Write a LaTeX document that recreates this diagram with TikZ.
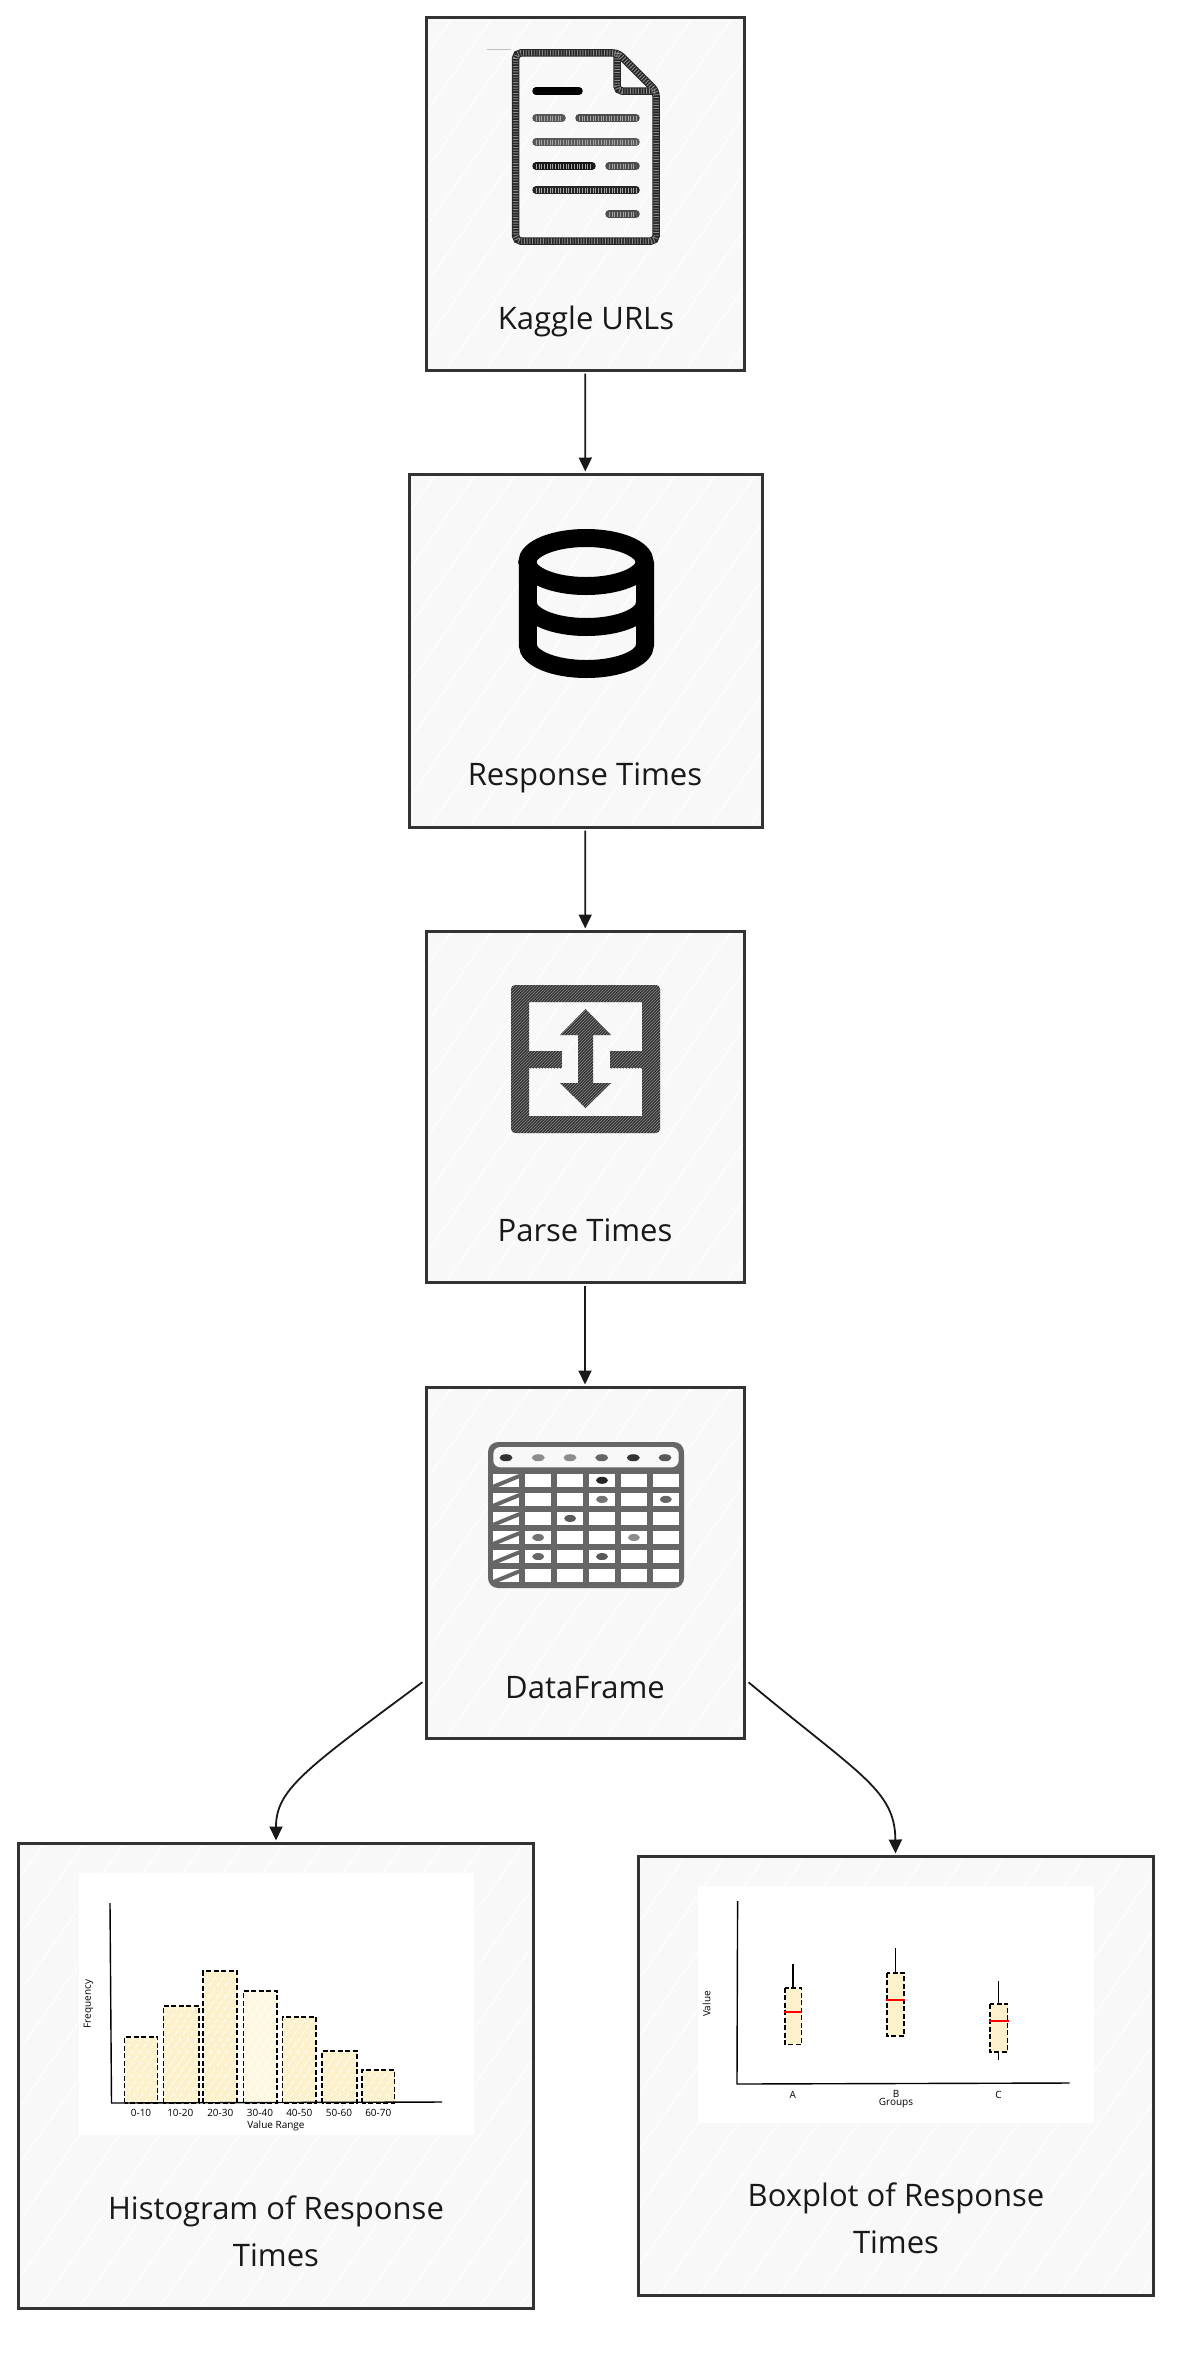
\documentclass[tikz,border=0pt]{standalone}
\usepackage{fontspec}
\setmainfont{Open Sans}
\usetikzlibrary{arrows.meta, calc, patterns, positioning}
\definecolor{boxgray}{HTML}{F8F8F8}
\definecolor{boxline}{HTML}{333333}
\definecolor{barcream}{HTML}{FDF1CB}
\definecolor{iconhatch}{HTML}{333333}
\definecolor{gridgray}{HTML}{666666}
\tikzset{
  skhatch/.style={path picture={
    \foreach \i in {-340,-300,...,520}
      \draw[white, line width=1pt]
        ($(path picture bounding box.south west)+(\i,0)$) -- +(490,-700);}},
  skbarhatch/.style={path picture={
    \foreach \i in {-140,-132,...,40}
      \draw[white, line width=.8pt]
        ($(path picture bounding box.south west)+(\i,0)$) -- +(105,-150);}},
  skbox/.style={rectangle, draw=boxline, fill=boxgray, line width=3pt, skhatch, inner sep=0pt},
  skarrow/.style={-{Triangle[length=14pt, width=13pt]}, line width=1.8pt, color=black!90, shorten >=1pt, shorten <=2pt},
  skcap/.style={font=\fontsize{31}{47}\selectfont, align=center, text=black!90, inner sep=0pt},
  sklabel/.style={font=\fontsize{10}{12}\selectfont, inner sep=0pt},
  skpanel/.style={fill=white, draw=none},
  skaxis/.style={line width=1.4pt, black},
  skbar/.style={draw=black, dash pattern=on 5pt off 2.5pt, line width=1.6pt, fill=barcream},
  skdoc/.style={line width=7.5pt, black!85, rounded corners=5pt},
  skdocover/.style={line width=5.5pt, white!55!black, rounded corners=5pt, dash pattern=on .9pt off 1.8pt},
  sktext/.style={line width=7.5pt, line cap=round},
  sktextover/.style={line width=5pt, white!65!black, dash pattern=on .9pt off 1.8pt},
  skdb/.style={line width=18pt, black},
  skparse/.style={fill=iconhatch, postaction={pattern=north east lines, pattern color=black!45}},
  skmedian/.style={line width=2.4pt, red},
}
\begin{document}
\begin{tikzpicture}[x=1pt, y=-1pt]
  \useasboundingbox (0,0) rectangle (1188,2358);

  % Pipeline boxes.
  \node[skbox, minimum width=318pt, minimum height=352pt] (urls) at (585,194) {};
  \node[skbox, minimum width=353pt, minimum height=353pt] (times) at (585.5,650.5) {};
  \node[skbox, minimum width=318pt, minimum height=351pt] (parse) at (585,1106.5) {};
  \node[skbox, minimum width=318pt, minimum height=351pt] (frame) at (585,1562.5) {};
  \node[skbox, minimum width=515pt, minimum height=465pt] (hist) at (276,2075.5) {};
  \node[skbox, minimum width=515pt, minimum height=439pt] (boxp) at (895.5,2075.5) {};

  % Captions.
  \node[skcap] (urlscap) at (586,321) {Kaggle URLs};
  \node[skcap] (timescap) at (585,778) {Response Times};
  \node[skcap] (parsecap) at (585,1230) {Parse Times};
  \node[skcap] (framecap) at (585,1688) {DataFrame};
  \node[skcap] (histcap) at (276,2231) {Histogram of Response\\Times};
  \node[skcap] (boxpcap) at (896,2218) {Boxplot of Response\\Times};

  % Edges.
  \coordinate (frameleft) at (424,1681);
  \coordinate (frameright) at (747,1681);
  \draw[skarrow] (urls) -- (times);
  \draw[skarrow] (times) -- (parse);
  \draw[skarrow] (parse) -- (frame);
  \draw[skarrow] (frameleft) .. controls (304,1770) and (276,1790) .. (hist.north);
  \draw[skarrow] (frameright) .. controls (860,1775) and (895,1790) .. (boxp.north);

  % Document icon.
  \draw[black!25, line width=1pt] (487,50) -- (511,50);
  \draw[skdoc] (618,53) -- (515.7,53) -- (515.7,241) -- (656,241) -- (656,91) -- cycle;
  \draw[skdoc] (617,53) -- (617,91) -- (656,91);
  \draw[skdocover] (618,53) -- (515.7,53) -- (515.7,241) -- (656,241) -- (656,91) -- cycle;
  \draw[skdocover] (617,53) -- (617,91) -- (656,91);
  \draw[sktext, black] (536,91) -- (579,91);
  \foreach \xa/\xb/\ypos/\tone in {536/562/118/black!65, 579/636/118/black!70, 536/636/142/black!65,
      536/592/166/black!90, 609/636/166/black!70, 536/636/190/black!85, 609/636/214/black!70}{
    \draw[sktext, \tone] (\xa,\ypos) -- (\xb,\ypos);
    \draw[sktextover] (\xa,\ypos) -- (\xb,\ypos);
  }

  % Database icon.
  \draw[skdb] (586,562) ellipse [x radius=58.6, y radius=24];
  \draw[skdb] (527.8,562) -- (527.8,645) arc [start angle=180, end angle=0, x radius=58.6, y radius=24] -- (645,562);
  \draw[skdb] (527.8,603) arc [start angle=180, end angle=0, x radius=58.6, y radius=24];

  % Parse icon.
  \path[skparse, even odd rule, rounded corners=4pt] (511,985) rectangle (660,1133)
    [sharp corners] (529,1002) rectangle (642,1116);
  \path[skparse] (529,1051) rectangle (562,1068);
  \path[skparse] (610,1051) rectangle (642,1068);
  \path[skparse] (585.5,1009) -- (611,1035) -- (593,1035) -- (593,1083) -- (611,1083)
    -- (585.5,1108) -- (560,1083) -- (578,1083) -- (578,1035) -- (560,1035) -- cycle;

  % Table icon.
  \fill[gridgray, rounded corners=10pt] (488,1442) rectangle (684,1588);
  \fill[boxgray, rounded corners=7pt] (493.3,1447) rectangle (678.7,1467.3);
  \foreach \c in {0,...,5}
    \foreach \r in {0,...,5}
      \fill[white] ({493.3+31.9*\c},{1474+19.06*\r}) rectangle ++(26,12.7);
  \foreach \r in {0,...,5}
    \draw[gridgray, line width=4pt] (493.3,{1486.7+19.06*\r}) -- (519.3,{1476+19.06*\r});
  \foreach \xpos/\tone in {506/black!80, 538.3/black!45, 570/black!45, 601.7/black!60, 633.3/black!80, 665/black!65}
    \fill[\tone] (\xpos,1457.7) ellipse [x radius=6.5, y radius=3.5];
  \foreach \c/\r/\tone in {3/0/black!85, 3/1/black!55, 5/1/black!60, 2/2/black!65, 1/3/black!55, 4/3/black!45, 1/4/black!60, 3/4/black!65}
    \fill[\tone] ({506.3+31.9*\c},{1480.3+19.06*\r}) ellipse [x radius=6, y radius=3.5];

  % Histogram panel.
  \fill[skpanel] (79,1873) rectangle (474,2135);
  \foreach \xa/\xb/\ytop/\bartone in {124.5/157.6/2037/barcream, 163.4/199/2006/barcream, 203/237/1971/barcream,
      243.4/277/1991/barcream!55, 282.4/316/2017/barcream, 322/357/2051/barcream, 361.7/394.5/2070/barcream}
    \draw[skbar, skbarhatch, fill=\bartone] (\xa,2103) rectangle (\xb,\ytop);
  \draw[skaxis] (110,1903) -- (111.5,2103) -- (442,2102);
  \foreach \xpos/\lab in {141/0-10, 180.3/10-20, 220.3/20-30, 260/30-40, 299.3/40-50, 339/50-60, 378.3/60-70}
    \node[sklabel] (bin\lab) at (\xpos,2112.7) {\lab};
  \node[sklabel] (histxlab) at (276,2126) {Value Range};
  \node[sklabel, rotate=90] (histylab) at (88.6,2004) {Frequency};

  % Boxplot panel.
  \fill[skpanel] (698,1886) rectangle (1094,2123);
  \draw[skaxis] (737.6,1901) -- (737,2084) -- (1069.6,2083);
  \foreach \xa/\xb/\ya/\yb/\ymed/\ytip in {784.8/801.4/1987.7/2044.3/2012/1964, 887/904/1972.7/2036/2000/1948, 989.7/1007.6/2004/2052/2020.7/1980.7}{
    \draw[skaxis] ({(\xa+\xb)/2},\ytip) -- ({(\xa+\xb)/2},\ya);
    \draw[skbar] (\xa,\ya) rectangle (\xb,\yb);
    \draw[skmedian] (\xa-1,\ymed) -- (\xb+1,\ymed);
  }
  \draw[skaxis] (998.3,2052) -- (998.3,2060);
  \node[sklabel] (groupa) at (792.8,2095) {A};
  \node[sklabel] (groupb) at (896,2094) {B};
  \node[sklabel] (groupc) at (998.6,2095) {C};
  \node[sklabel] (boxxlab) at (896,2103) {Groups};
  \node[sklabel, rotate=90] (boxylab) at (706.6,2004) {Value};
\end{tikzpicture}
\end{document}
